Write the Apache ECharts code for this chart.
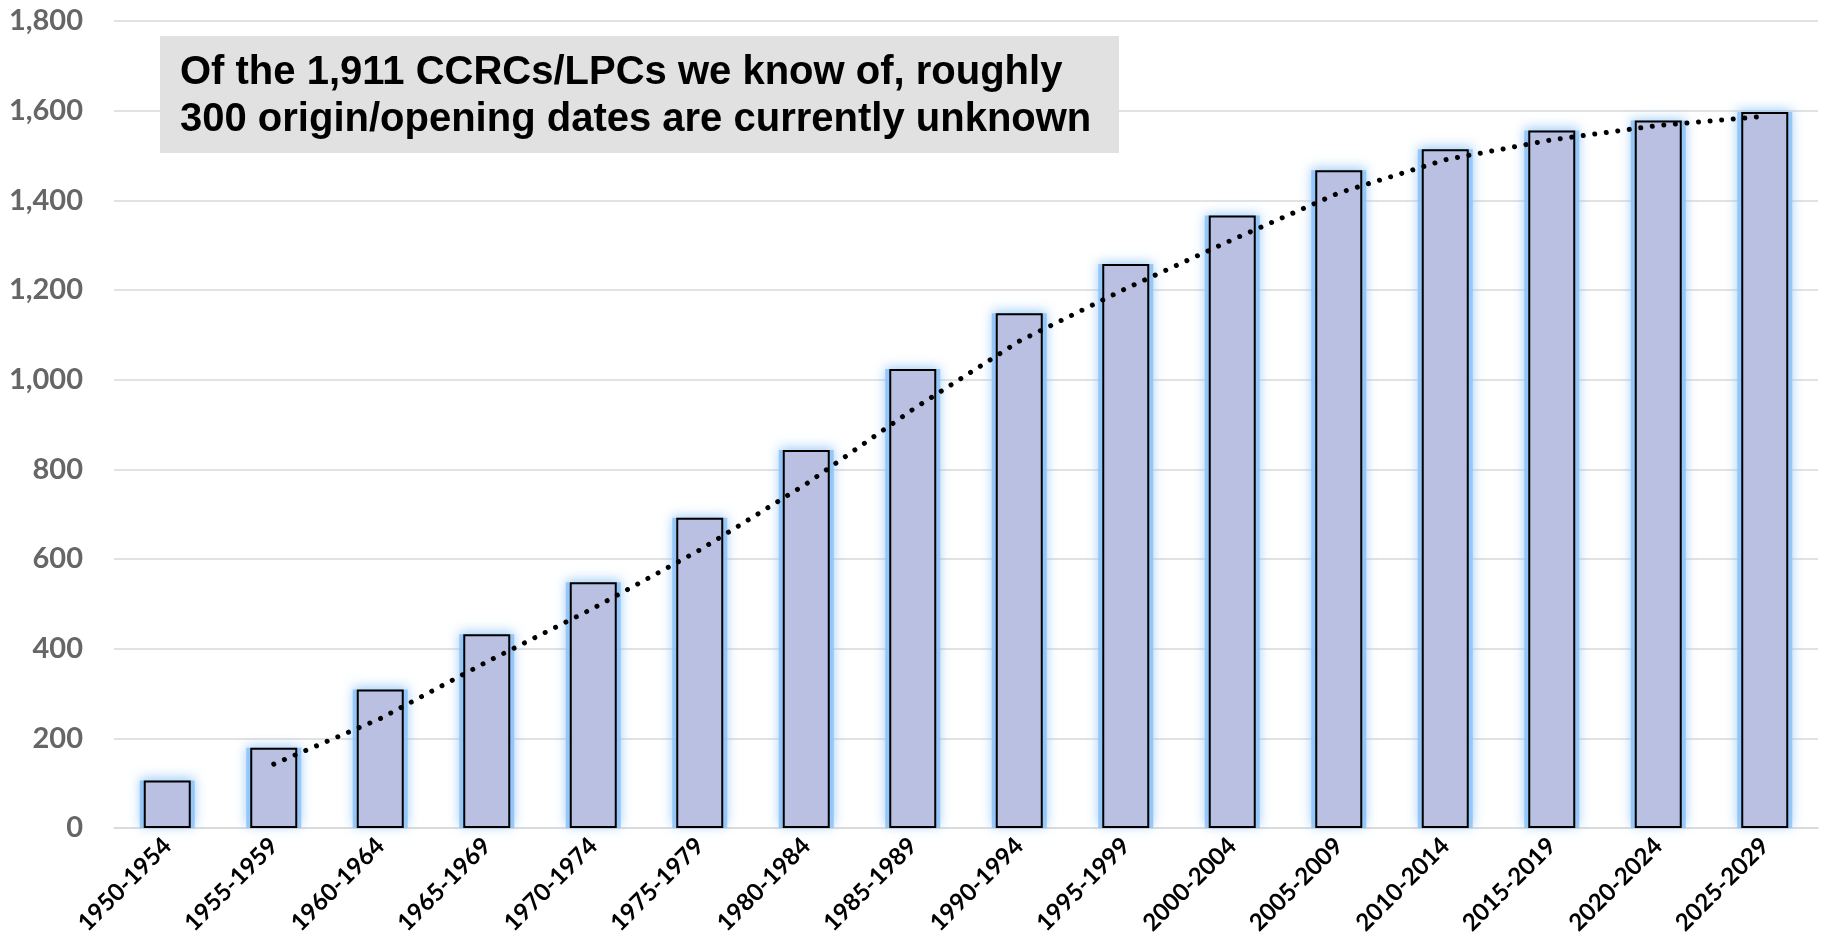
<!DOCTYPE html>
<html>
<head>
<meta charset="utf-8">
<script src="https://cdn.jsdelivr.net/npm/echarts@6/dist/echarts.min.js"></script>
<style>
  html, body { margin: 0; padding: 0; background: #ffffff; }
  #chart { width: 1824px; height: 948px; }
</style>
</head>
<body>
<div id="chart"></div>
<script>
// Five-year opening periods
const periods = ['1950-1954', '1955-1959', '1960-1964', '1965-1969', '1970-1974', '1975-1979',
  '1980-1984', '1985-1989', '1990-1994', '1995-1999', '2000-2004', '2005-2009',
  '2010-2014', '2015-2019', '2020-2024', '2025-2029'];

// Cumulative count of communities open by the end of each period
const cumulativeCount = [106, 179, 309, 432, 548, 692, 843, 1024, 1148, 1258, 1366, 1467, 1514, 1556, 1578, 1597];

// Y axis range and step
const yTicks = { min: 0, max: 1800, interval: 200 };

const noteLines = [
  'Of the 1,911 CCRCs/LPCs we know of, roughly',
  '300 origin/opening dates are currently unknown'
];

// Two-period moving average trend (starts at the second period)
const movingAvg = cumulativeCount.map((v, i) => i === 0 ? '-' : (v + cumulativeCount[i - 1]) / 2);

const chart = echarts.init(document.getElementById('chart'), null, { renderer: 'canvas' });

const noteFont = 'bold 40px "Liberation Sans", Arial, sans-serif';
const glowBlue = '#8cc2f8';

chart.setOption({
  animation: false,
  backgroundColor: '#ffffff',
  grid: { left: 114, right: 6, top: 21, bottom: 120, containLabel: false },
  xAxis: [
    {
      type: 'category',
      data: periods,
      axisLine: { show: true, lineStyle: { color: '#d9d9d9', width: 1.5 } },
      axisTick: { show: false },
      axisLabel: {
        interval: 0,
        rotate: 45,
        margin: 14,
        color: '#000000',
        fontFamily: 'Lato',
        fontWeight: 'bold',
        fontSize: 24
      }
    },
    {
      // hidden twin axis so the halo bars are centred on their own
      type: 'category',
      data: periods,
      position: 'bottom',
      show: false
    }
  ],
  yAxis: {
    type: 'value',
    min: yTicks.min,
    max: yTicks.max,
    interval: yTicks.interval,
    axisLine: { show: false },
    axisTick: { show: false },
    splitLine: { lineStyle: { color: '#d9d9d9', width: 1.5 } },
    axisLabel: {
      margin: 31,
      color: '#666666',
      fontFamily: 'Lato',
      fontWeight: 'bold',
      fontSize: 29,
      formatter: v => v.toLocaleString('en-US')
    }
  },
  series: [
    {
      // soft blue halo behind each bar
      type: 'bar',
      xAxisIndex: 1,
      data: cumulativeCount,
      barWidth: 55,
      silent: true,
      itemStyle: {
        color: glowBlue,
        opacity: 0.85,
        shadowBlur: 11,
        shadowOffsetY: -2,
        shadowColor: glowBlue
      },
      z: 1
    },
    {
      type: 'bar',
      xAxisIndex: 0,
      data: cumulativeCount,
      barWidth: 47,
      itemStyle: {
        color: '#b9c0e2',
        borderColor: '#000000',
        borderWidth: 2
      },
      z: 2
    },
    {
      type: 'line',
      xAxisIndex: 0,
      data: movingAvg,
      symbol: 'none',
      smooth: false,
      connectNulls: false,
      lineStyle: {
        color: '#000000',
        width: 5,
        type: [0.01, 11.6],
        cap: 'round'
      },
      z: 3
    }
  ],
  graphic: [
    {
      type: 'group',
      left: 160,
      top: 36,
      z: 100,
      children: [
        {
          type: 'rect',
          z: 100,
          shape: { x: 0, y: 0, width: 959, height: 117 },
          style: { fill: '#e1e1e1' }
        },
        {
          type: 'text',
          z: 101,
          x: 20,
          y: 37,
          style: {
            text: noteLines[0],
            fill: '#000000',
            font: noteFont,
            verticalAlign: 'middle'
          }
        },
        {
          type: 'text',
          z: 101,
          x: 20,
          y: 84,
          style: {
            text: noteLines[1],
            fill: '#000000',
            font: noteFont,
            verticalAlign: 'middle'
          }
        }
      ]
    }
  ]
});
</script>
</body>
</html>
